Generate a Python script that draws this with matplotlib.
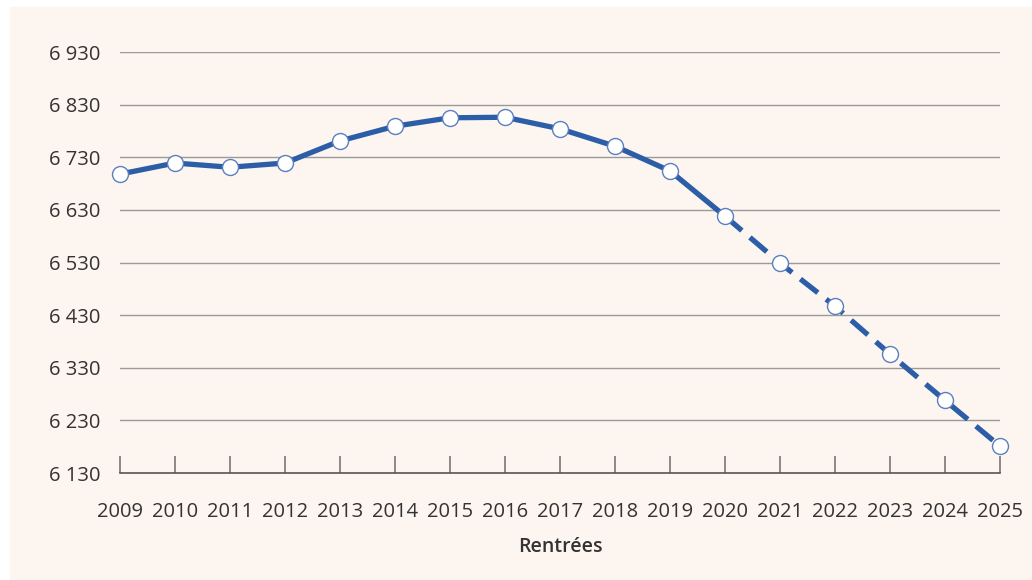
import numpy as np
import matplotlib.pyplot as plt
from matplotlib.patches import Rectangle

annees = list(range(2009, 2026))
effectifs = [6698, 6719, 6711, 6719, 6761, 6789, 6805, 6806, 6784,
             6751, 6704, 6618, 6529, 6447, 6356, 6268, 6181]
annee_prev = 2020  # début des projections (trait pointillé)
yticks = [6130, 6230, 6330, 6430, 6530, 6630, 6730, 6830, 6930]

plt.rcParams['font.family'] = ['Open Sans', 'DejaVu Sans']

W, H = 1032, 580
fig = plt.figure(figsize=(W / 100, H / 100), dpi=100, facecolor='white')
fond = '#fdf5f0'
fig.patches.append(Rectangle((10 / W, 0), 1 - 10 / W, 1 - 7 / H,
                             transform=fig.transFigure, color=fond, zorder=-10))

ax = fig.add_axes([120 / W, (H - 473) / H, 880 / W, 421 / H])
ax.set_facecolor('none')

bleu = '#2c5ea8'
i = annees.index(annee_prev)
ax.plot(annees[:i + 1], effectifs[:i + 1], color=bleu, lw=3.8,
        solid_capstyle='round', zorder=3, clip_on=False)
ax.plot(annees[i:], effectifs[i:], color=bleu, lw=3.8,
        dashes=(4.2, 2.0), zorder=3, clip_on=False)
ax.plot(annees, effectifs, ls='none', marker='o', ms=11.5,
        mfc='white', mec='#5b7fbf', mew=1.0, zorder=4, clip_on=False)

ax.set_xlim(2009, 2025)
ax.set_ylim(6130, 6930)
ax.set_xticks(annees)
ax.set_yticks(yticks)
ax.set_yticklabels([f'{v:,}'.replace(',', ' ') for v in yticks])

for v in yticks[1:]:
    ax.axhline(v, color='#9a9a9a', lw=1.0, zorder=1)

for s in ['top', 'right', 'left']:
    ax.spines[s].set_visible(False)
ax.spines['bottom'].set_color('#555555')
ax.spines['bottom'].set_linewidth(1.2)

ax.tick_params(axis='x', direction='in', length=12.5, width=1.2,
               color='#777777', pad=21, labelsize=14.5, labelcolor='#333333')
ax.tick_params(axis='y', length=0, pad=14, labelsize=14.5,
               labelcolor='#333333')

ax.set_xlabel('Rentrées', fontsize=14, fontweight='semibold',
              color='#333333', labelpad=11)

fig.savefig('out.png', dpi=100, facecolor=fig.get_facecolor())
